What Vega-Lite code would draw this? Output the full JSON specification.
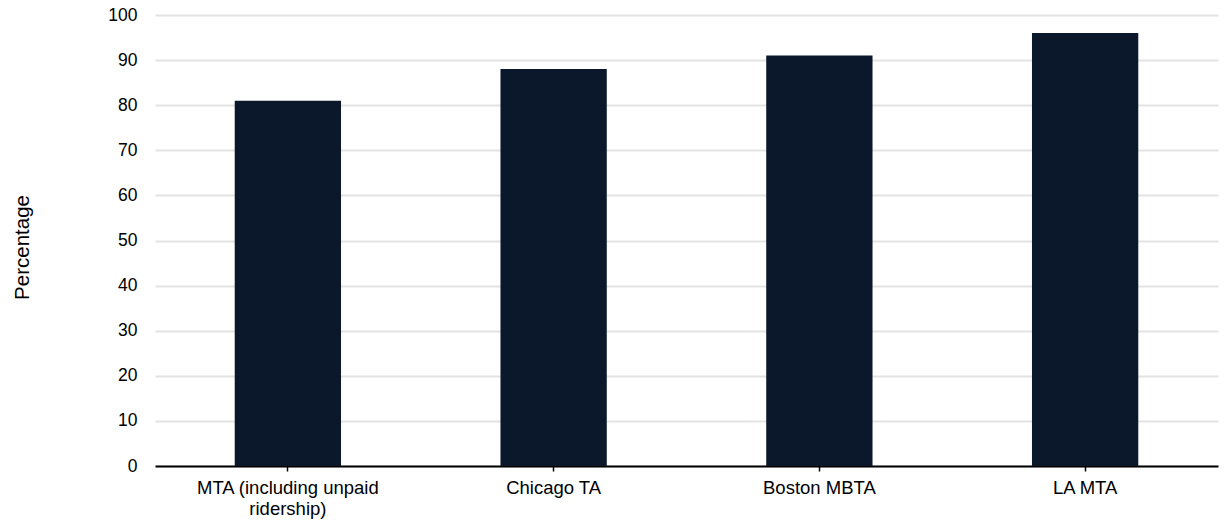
{
  "$schema": "https://vega.github.io/schema/vega-lite/v6.json",
  "autosize": {"type": "none"},
  "padding": {"left": 155, "top": 15, "right": 6, "bottom": 55},
  "width": 1063,
  "height": 451,
  "background": "white",
  "config": {
    "view": {"stroke": null},
    "font": "Liberation Sans"
  },
  "data": {
    "values": [
      {"agency": "MTA (including unpaid ridership)", "pct": 81},
      {"agency": "Chicago TA", "pct": 88},
      {"agency": "Boston MBTA", "pct": 91},
      {"agency": "LA MTA", "pct": 96}
    ]
  },
  "mark": {"type": "bar", "color": "#0b182c", "width": {"band": 0.4}},
  "encoding": {
    "x": {
      "field": "agency",
      "type": "nominal",
      "sort": null,
      "title": null,
      "scale": {"paddingInner": 0, "paddingOuter": 0},
      "axis": {
        "labelAngle": 0,
        "labelFontSize": 18.5,
        "labelColor": "#000000",
        "labelPadding": 7,
        "labelLimit": 0,
        "labelExpr": "datum.value == 'MTA (including unpaid ridership)' ? ['MTA (including unpaid', 'ridership)'] : datum.value",
        "labelLineHeight": 21,
        "domainColor": "#000000",
        "domainWidth": 2,
        "tickColor": "#000000",
        "tickSize": 5,
        "tickWidth": 1.5,
        "grid": false
      }
    },
    "y": {
      "field": "pct",
      "type": "quantitative",
      "scale": {"domain": [0, 100]},
      "title": "Percentage",
      "axis": {
        "values": [0, 10, 20, 30, 40, 50, 60, 70, 80, 90, 100],
        "labelFontSize": 17.5,
        "labelColor": "#000000",
        "labelPadding": 18,
        "ticks": false,
        "domain": false,
        "gridColor": "#e3e3e3",
        "gridWidth": 2,
        "titleFontSize": 20.5,
        "titleFontWeight": "normal",
        "titleColor": "#000000",
        "titleAngle": -90,
        "titleX": -133,
        "titleY": 232,
        "titleAlign": "center",
        "titleBaseline": "middle"
      }
    }
  }
}
